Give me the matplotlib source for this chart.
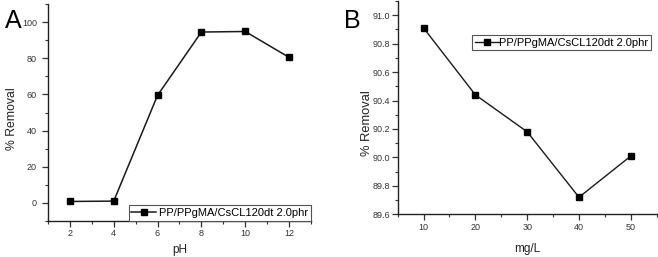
import matplotlib
matplotlib.use("Agg")
import matplotlib.pyplot as plt
from matplotlib.ticker import MultipleLocator

plt.rcParams['font.family'] = ['Liberation Sans', 'DejaVu Sans']

ph = [2, 4, 6, 8, 10, 12]
removal_ph = [0.8, 1.0, 59.5, 94.5, 94.8, 80.5]
conc = [10, 20, 30, 40, 50]
removal_conc = [90.91, 90.44, 90.18, 89.72, 90.01]
series_label = "PP/PPgMA/CsCL120dt 2.0phr"

fig = plt.figure(figsize=(6.58, 2.57), dpi=100)
axA = fig.add_axes([0.0729, 0.1401, 0.3997, 0.8443])
axB = fig.add_axes([0.6044, 0.1661, 0.3936, 0.8300])

tick_col = '#333333'
text_col = '#222222'

def style(ax, ypad):
    for s in ['top', 'right']:
        ax.spines[s].set_visible(False)
    for s in ['left', 'bottom']:
        ax.spines[s].set_linewidth(1.0)
        ax.spines[s].set_color('#222222')
    ax.tick_params(which='major', direction='out', length=4, width=0.9,
                   labelsize=6.5, colors=tick_col, labelcolor='#333333')
    ax.tick_params(axis='x', which='major', pad=2)
    ax.tick_params(axis='y', which='major', pad=ypad)
    ax.tick_params(which='minor', direction='out', length=2.5, width=0.8, colors=tick_col)

axA.plot(ph, removal_ph, color='#1a1a1a', lw=1.1, marker='s', ms=4.2,
         mfc='black', mec='black', label=series_label)
axA.set_xlim(1, 13)
axA.set_ylim(-10, 110)
axA.set_xticks(ph)
axA.xaxis.set_minor_locator(MultipleLocator(1))
axA.set_yticks([0, 20, 40, 60, 80, 100])
axA.yaxis.set_minor_locator(MultipleLocator(10))
style(axA, 4)
axA.set_xlabel('pH', fontsize=8.5, color=text_col, labelpad=4)
axA.set_ylabel('% Removal', fontsize=8.8, color=text_col, va='center')
axA.yaxis.set_label_coords(-0.135, 0.47)
legA = axA.legend(loc='lower right', bbox_to_anchor=(1.0, 0.0), borderaxespad=0,
                  fontsize=8, frameon=True, fancybox=False, handlelength=2.2,
                  handletextpad=0.3, borderpad=0.25, framealpha=1)
legA.get_frame().set_edgecolor('#555555')
legA.get_frame().set_linewidth(0.8)

axB.plot(conc, removal_conc, color='#1a1a1a', lw=1.0, marker='s', ms=4.2,
         mfc='black', mec='black', label=series_label)
axB.set_xlim(5, 55)
axB.set_ylim(89.6, 91.1)
axB.set_xticks(conc)
axB.xaxis.set_minor_locator(MultipleLocator(5))
axB.set_yticks([89.6, 89.8, 90.0, 90.2, 90.4, 90.6, 90.8, 91.0])
axB.set_yticklabels(['89.6', '89.8', '90.0', '90.2', '90.4', '90.6', '90.8', '91.0'])
axB.yaxis.set_minor_locator(MultipleLocator(0.1))
style(axB, 1.6)
axB.set_xlabel('mg/L', fontsize=8.5, color=text_col, labelpad=8)
axB.set_ylabel('% Removal', fontsize=9.3, color=text_col, va='center')
axB.yaxis.set_label_coords(-0.1185, 0.428)
legB = axB.legend(loc='upper right', bbox_to_anchor=(0.978, 0.841), borderaxespad=0,
                  fontsize=8, frameon=True, fancybox=False, handlelength=2.2,
                  handletextpad=0.0, borderpad=0.25, framealpha=1)
legB.get_frame().set_edgecolor('#555555')
legB.get_frame().set_linewidth(0.8)

fig.text(13 / 658, 1 - 21 / 257, 'A', fontsize=18, va='center', ha='center', color='black')
fig.text(352 / 658, 1 - 21 / 257, 'B', fontsize=18, va='center', ha='center', color='black')

fig.savefig('out.png', dpi=100)
